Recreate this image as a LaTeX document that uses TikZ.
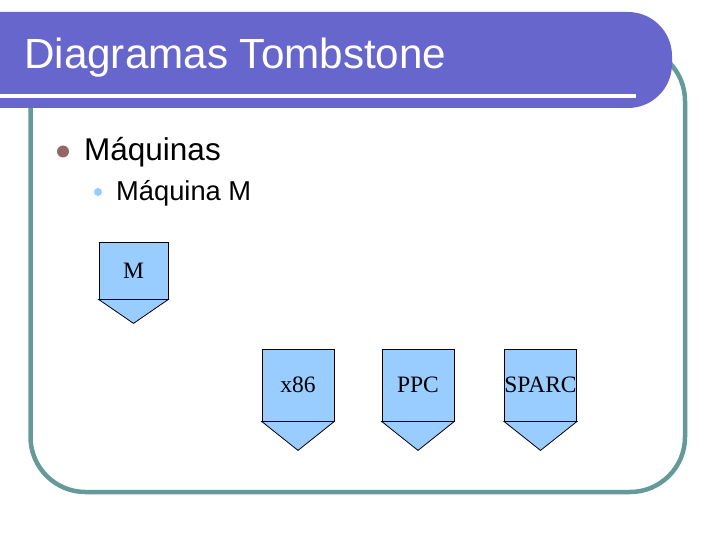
\documentclass[tikz,border=0pt]{standalone}
\usepackage{fontspec}
\setmainfont{Liberation Sans}
\newfontfamily\tsfont{Liberation Serif}
\usetikzlibrary{calc}
\definecolor{titlecol}{HTML}{6666CC}
\definecolor{framecol}{HTML}{669999}
\definecolor{bulone}{HTML}{996666}
\definecolor{bultwo}{HTML}{99CCFF}
\definecolor{tsfill}{HTML}{99CCFF}
\tikzset{
  tsbox/.style={draw=black, line width=0.8pt, fill=tsfill, inner sep=0pt,
    font=\tsfont\fontsize{23.5}{28}\selectfont},
  tsbot/.style={draw=black, line width=0.8pt, fill=tsfill, line join=miter},
  lvlone/.style={anchor=base west, inner sep=0pt, font=\fontsize{31.5}{36}\selectfont},
  lvltwo/.style={anchor=base west, inner sep=0pt, font=\fontsize{27.3}{32}\selectfont},
}
\begin{document}
\begin{tikzpicture}[x=1pt,y=-1pt]
\useasboundingbox (0,0) rectangle (720,540);
% frame
\draw[framecol, line width=4.5pt, rounded corners=55pt] (30.5,46) rectangle (685,492);
% title bar
\fill[titlecol, rounded corners=44pt] (-60,12) rectangle (672,108);
\fill[white] (0,94.5) rectangle (636,98);
\node[anchor=base west, inner sep=0pt, text=white, font=\fontsize{42.2}{48}\selectfont] (title) at (24,69) {Diagramas Tombstone};
% bullets
\fill[bulone] (63,151.5) circle (6);
\node[lvlone] (b1) at (84,160.5) {Máquinas};
\fill[bultwo] (98,192) circle (4);
\node[lvltwo] (b2) at (116,201) {Máquina M};
% tombstones
\node[tsbox, minimum width=69pt, minimum height=57pt] (m) at (133.5,270.5) {M};
\draw[tsbot] (m.south west) -- (m.south east) -- ($(m.south)+(0,24)$) -- cycle;
\node[tsbox, minimum width=72pt, minimum height=72pt] (x86) at (298,385) {x86};
\draw[tsbot] (x86.south west) -- (x86.south east) -- ($(x86.south)+(0,29)$) -- cycle;
\node[tsbox, minimum width=72pt, minimum height=72pt] (ppc) at (418,385) {PPC};
\draw[tsbot] (ppc.south west) -- (ppc.south east) -- ($(ppc.south)+(0,29)$) -- cycle;
\node[tsbox, minimum width=71pt, minimum height=72pt] (sparc) at (540.5,385) {SPARC};
\draw[tsbot] (sparc.south west) -- (sparc.south east) -- ($(sparc.south)+(0,29)$) -- cycle;
\end{tikzpicture}
\end{document}
